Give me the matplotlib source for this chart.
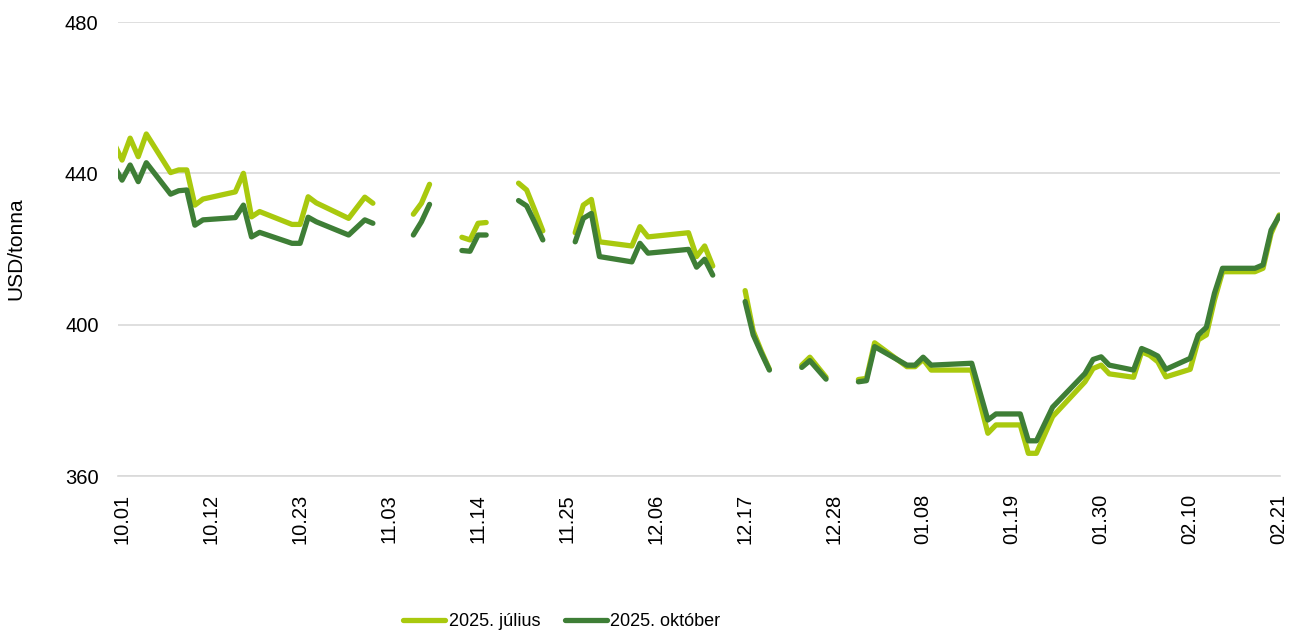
import matplotlib
matplotlib.use("Agg")
import matplotlib.pyplot as plt
import matplotlib.dates as mdates
import numpy as np
import pandas as pd

plt.rcParams['font.family'] = ['Liberation Sans', 'DejaVu Sans']

nan = np.nan

# trading days (gaps = missing data)
dates = ["2024-09-30", "2024-10-01", "2024-10-02", "2024-10-03", "2024-10-04",
         "2024-10-07", "2024-10-08", "2024-10-09", "2024-10-10", "2024-10-11",
         "2024-10-15", "2024-10-16", "2024-10-17", "2024-10-18", "2024-10-22",
         "2024-10-23", "2024-10-24", "2024-10-25", "2024-10-29", "2024-10-31",
         "2024-11-01", "2024-11-04", "2024-11-06", "2024-11-07", "2024-11-08",
         "2024-11-11", "2024-11-12", "2024-11-13", "2024-11-14", "2024-11-15",
         "2024-11-18", "2024-11-19", "2024-11-20", "2024-11-21", "2024-11-22",
         "2024-11-25", "2024-11-26", "2024-11-27", "2024-11-28", "2024-11-29",
         "2024-12-03", "2024-12-04", "2024-12-05", "2024-12-10", "2024-12-11",
         "2024-12-12", "2024-12-13", "2024-12-16", "2024-12-17", "2024-12-18",
         "2024-12-19", "2024-12-20", "2024-12-23", "2024-12-24", "2024-12-25",
         "2024-12-27", "2024-12-30", "2024-12-31", "2025-01-01", "2025-01-02",
         "2025-01-06", "2025-01-07", "2025-01-08", "2025-01-09", "2025-01-14",
         "2025-01-16", "2025-01-17", "2025-01-20", "2025-01-21", "2025-01-22",
         "2025-01-24", "2025-01-28", "2025-01-29", "2025-01-30", "2025-01-31",
         "2025-02-03", "2025-02-04", "2025-02-05", "2025-02-06", "2025-02-07",
         "2025-02-10", "2025-02-11", "2025-02-12", "2025-02-13", "2025-02-14",
         "2025-02-18", "2025-02-19", "2025-02-20", "2025-02-21"]

julius = [448.0, 443.5, 449.3, 444.4, 450.4,
          440.2, 440.9, 440.9, 431.6, 433.2,
          435.1, 440.0, 428.5, 429.9, 426.5,
          426.5, 433.8, 432.2, 428.1, 433.7,
          432.1, nan, 429.2, 432.1, 437.1,
          nan, 423.1, 422.4, 426.8, 427.0,
          nan, 437.4, 435.6, 430.3, 424.8,
          nan, 424.3, 431.6, 433.1, 421.9,
          420.8, 425.9, 423.2, 424.3, 418.0,
          420.8, 415.5, nan, 409.0, 398.3,
          393.0, 388.2, nan, 389.3, 391.4,
          386.1, nan, 385.5, 385.8, 395.2,
          388.9, 388.9, 390.8, 388.0, 388.0,
          371.3, 373.5, 373.5, 366.0, 366.0,
          375.7, 384.9, 388.4, 389.3, 387.0,
          386.1, 392.8, 391.9, 390.2, 386.2,
          388.2, 396.0, 397.3, 406.5, 414.0,
          414.0, 414.9, 424.1, 429.0]

oktober = [442.0, 438.2, 442.2, 437.8, 442.8,
           434.5, 435.4, 435.6, 426.3, 427.7,
           428.3, 431.6, 423.2, 424.4, 421.5,
           421.5, 428.4, 427.2, 423.7, 427.7,
           426.8, nan, 423.7, 427.2, 431.8,
           nan, 419.6, 419.4, 423.7, 423.7,
           nan, 432.8, 431.4, 427.0, 422.4,
           nan, 421.9, 428.1, 429.4, 418.0,
           416.6, 421.5, 418.9, 419.9, 415.2,
           417.3, 413.1, nan, 406.1, 397.3,
           392.5, 388.0, nan, 388.7, 390.5,
           385.6, nan, 384.9, 385.2, 394.2,
           389.3, 389.3, 391.4, 389.3, 389.8,
           374.8, 376.4, 376.4, 369.3, 369.3,
           378.2, 387.1, 390.8, 391.5, 389.3,
           388.0, 393.7, 392.8, 391.7, 388.2,
           391.1, 397.3, 399.3, 408.3, 414.9,
           414.9, 415.8, 425.0, 428.7]

labels = ["2025. július", "2025. október"]
colors = ["#A9C90E", "#3E7E36"]

x = pd.to_datetime(dates)
ticks = pd.date_range("2024-10-01", "2025-02-21", freq="11D")

fig = plt.figure(figsize=(12.9, 6.31), dpi=100)
ax = fig.add_axes([118 / 1290, 1 - 476 / 631, (1280 - 118) / 1290, (476 - 22) / 631])

ax.plot(x, julius, color=colors[0], lw=3.8, label=labels[0], solid_capstyle="round", solid_joinstyle="round")
ax.plot(x, oktober, color=colors[1], lw=3.8, label=labels[1], solid_capstyle="round", solid_joinstyle="round")

x0 = mdates.date2num(pd.Timestamp("2024-10-01"))
x1 = mdates.date2num(pd.Timestamp("2025-02-21"))
ax.set_xlim(x0 - 0.5, x1 + 0.1)
ax.set_ylim(360, 480)
ax.set_yticks([360, 400, 440, 480])
ax.set_xticks(ticks)
ax.xaxis.set_major_formatter(mdates.DateFormatter("%m.%d"))
ax.tick_params(axis="x", rotation=90, length=0, labelsize=14.5, pad=13)
ax.tick_params(axis="y", length=0, labelsize=14.5, pad=14)

ax.grid(axis="y", color="#d9d9d9", lw=1.2)
ax.set_axisbelow(True)
for s in ["left", "right", "top"]:
    ax.spines[s].set_visible(False)
ax.spines["bottom"].set_color("#d9d9d9")
ax.spines["bottom"].set_linewidth(1.2)

ax.set_ylabel("USD/tonna", fontsize=15)
ax.yaxis.set_label_coords(-0.08, 0.5)

fig.legend(loc="center", bbox_to_anchor=(562 / 1290, 1 - 622 / 631), ncol=2, frameon=False,
           fontsize=13, handlelength=2.3, handletextpad=0.2, columnspacing=1.4)

fig.savefig("out.png", dpi=100)
